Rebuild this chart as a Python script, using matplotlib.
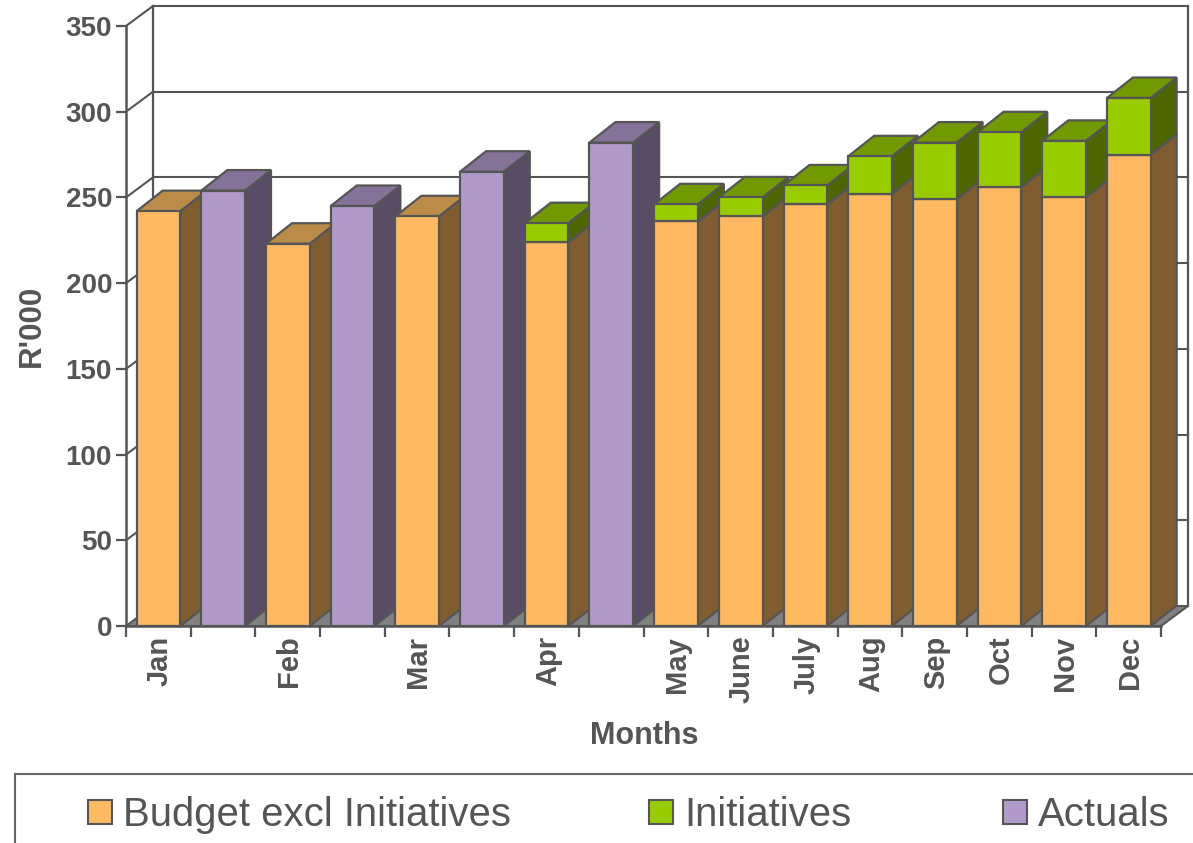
import matplotlib
matplotlib.use('Agg')
import matplotlib.pyplot as plt
from matplotlib.patches import Rectangle

plt.rcParams['font.family'] = ['Liberation Sans', 'DejaVu Sans']

months = ['Jan', '', 'Feb', '', 'Mar', '', 'Apr', '', 'May', 'June', 'July', 'Aug', 'Sep', 'Oct', 'Nov', 'Dec']
budget = [242, 0, 223, 0, 239, 0, 224, 0, 236, 239, 246, 252, 249, 256, 250, 275]
initiatives = [0, 0, 0, 0, 0, 0, 11, 0, 10, 11, 11, 22, 33, 32, 33, 33]
actuals = [0, 254, 0, 245, 0, 265, 0, 282, 0, 0, 0, 0, 0, 0, 0, 0]
yticks = [0, 50, 100, 150, 200, 250, 300, 350]

# front, top, side colours
budget_col = ('#FFB963', '#BB8B4A', '#7F5D31')
init_col = ('#99CC00', '#739900', '#4D6600')
actual_col = ('#B09ACA', '#847397', '#584D65')
edge = '#555555'

W, H = 1193, 843
fig = plt.figure(figsize=(W / 100, H / 100), dpi=100)
ax = fig.add_axes([126 / W, 1 - 626 / H, (1161 - 126) / W, 600 / H])
ax.set_xlim(0, 16)
ax.set_ylim(0, 350)

# depth of the fake 3d, in data units
wall_dx = 27 / 64.7
wall_dy = 20 * 350 / 600
bar_dx = 26 / 64.7
bar_dy = 20.5 * 350 / 600


def poly(xs, ys, col, lw=1.6, z=3):
    ax.fill(xs, ys, facecolor=col, edgecolor=edge, linewidth=lw, clip_on=False, zorder=z, joinstyle='miter')


def box(x, w, y0, y1, cols):
    poly([x + w, x + w + bar_dx, x + w + bar_dx, x + w], [y0, y0 + bar_dy, y1 + bar_dy, y1], cols[2])
    poly([x, x + bar_dx, x + w + bar_dx, x + w], [y1, y1 + bar_dy, y1 + bar_dy, y1], cols[1])
    poly([x, x + w, x + w, x], [y0, y0, y1, y1], cols[0])


right = 16 + wall_dx
# back wall
ax.plot([wall_dx, wall_dx], [wall_dy, 350 + wall_dy], color=edge, lw=1.6, clip_on=False, zorder=1)
ax.plot([right, right], [wall_dy, 350 + wall_dy], color=edge, lw=1.6, clip_on=False, zorder=1)
for v in yticks[1:]:
    ax.plot([wall_dx, right], [v + wall_dy, v + wall_dy], color=edge, lw=1.5, clip_on=False, zorder=1)
    ax.plot([0, wall_dx], [v, v + wall_dy], color=edge, lw=1.5, clip_on=False, zorder=1)

# floor
poly([0, wall_dx, right, 16], [0, wall_dy, wall_dy, 0], '#808080', lw=1.5, z=2)

for i in range(16):
    x = i + 0.165
    w = 0.675
    if actuals[i]:
        box(x, w, 0, actuals[i], actual_col)
    else:
        box(x, w, 0, budget[i], budget_col)
        if initiatives[i]:
            box(x, w, budget[i], budget[i] + initiatives[i], init_col)

for s in ['top', 'right']:
    ax.spines[s].set_visible(False)
for s in ['left', 'bottom']:
    ax.spines[s].set_color(edge)
    ax.spines[s].set_linewidth(1.8)
    ax.spines[s].set_zorder(5)

ax.set_yticks(yticks)
ax.set_xticks(range(17))
ax.set_xticklabels([])
ax.tick_params(axis='y', length=7.5, width=1.6, color=edge, labelcolor=edge, labelsize=20, pad=2.5)
ax.tick_params(axis='x', length=8, width=1.6, color=edge)
for t in ax.get_yticklabels():
    t.set_fontweight('bold')

for i, m in enumerate(months):
    if m:
        ax.annotate(m, (i + 0.5, 0), xytext=(1, -7), textcoords='offset points', rotation=90,
                    ha='center', va='top', fontsize=21, fontweight='bold', color=edge)

fig.text(32 / W, 1 - 326 / H, "R'000", rotation=90, ha='center', va='center', fontsize=22.5, fontweight='bold', color=edge)
fig.text(644 / W, 1 - 736 / H, 'Months', ha='center', va='center', fontsize=22, fontweight='bold', color=edge)

# legend box runs off the page like the original
fig.add_artist(Rectangle((15 / W, -0.02), 1.1, 0.02 + 1 - 774 / H, transform=fig.transFigure, facecolor='none',
                         edgecolor='#666666', linewidth=1.5))
legend_items = [('Budget excl Initiatives', budget_col[0], 88), ('Initiatives', init_col[0], 649), ('Actuals', actual_col[0], 1003)]
for label, col, px in legend_items:
    fig.add_artist(Rectangle((px / W, 1 - 824 / H), 24 / W, 24 / H, transform=fig.transFigure, facecolor=col,
                             edgecolor=edge, linewidth=1.5))
    fig.text((px + 35) / W, 1 - 815 / H, label, ha='left', va='center', fontsize=28.9, color=edge)

fig.savefig('out.png', dpi=100)
